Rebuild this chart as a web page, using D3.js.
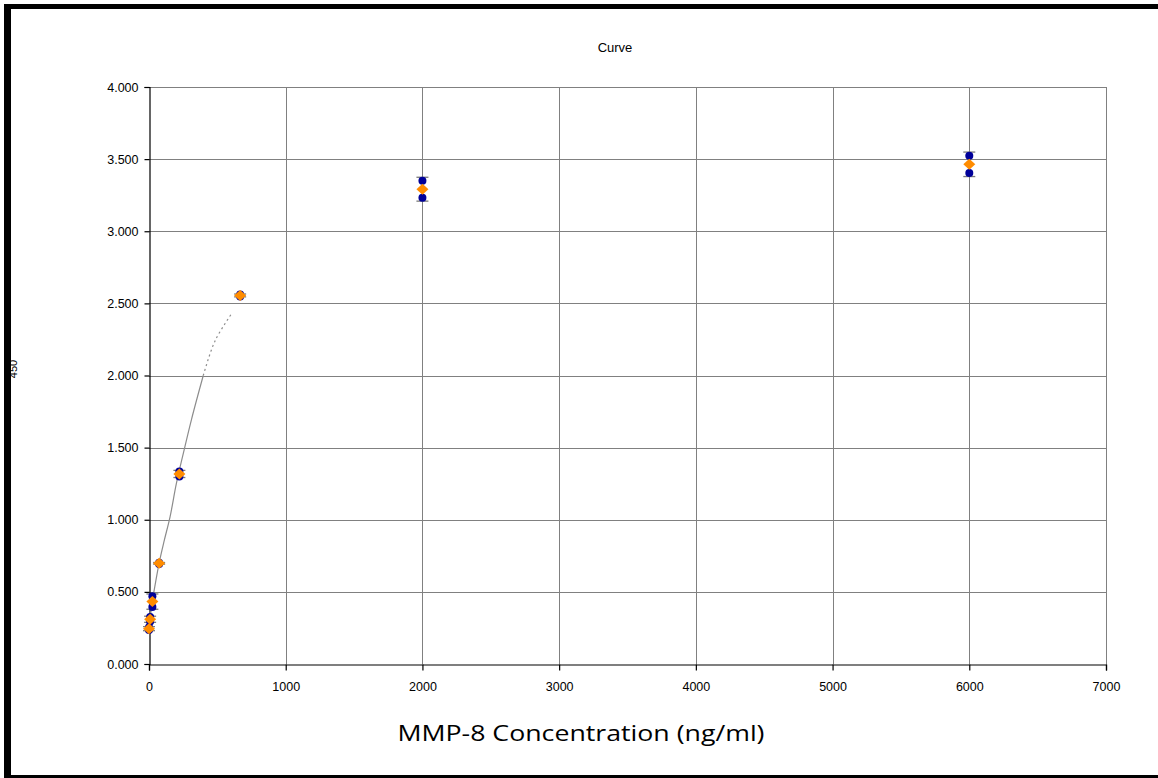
<!DOCTYPE html>
<html><head><meta charset="utf-8">
<script src="https://cdn.jsdelivr.net/npm/d3@7"></script>
<style>body{margin:0;background:#fff}svg{display:block}</style>
</head><body>
<script>
const concentrations = [6000, 2000, 666.7, 222.2, 74.1, 24.7, 8.2, 0];
const rep1 = [3.524, 3.350, 2.562, 1.335, 0.702, 0.470, 0.325, 0.255];
const rep2 = [3.404, 3.233, 2.548, 1.300, 0.694, 0.395, 0.295, 0.235];
const curveX = [0, 8, 25, 45, 74, 110, 154, 200, 251, 312, 397, 483, 605];
const curveY = [0.25, 0.31, 0.44, 0.55, 0.70, 0.85, 1.02, 1.25, 1.46, 1.70, 2.00, 2.24, 2.43];
const xTicks = [0, 1000, 2000, 3000, 4000, 5000, 6000, 7000];
const yTicks = [0, 0.5, 1, 1.5, 2, 2.5, 3, 3.5, 4];

const W = 1158, H = 778;
const svg = d3.select("body").append("svg").attr("width", W).attr("height", H);
svg.append("rect").attr("width", W).attr("height", H).attr("fill", "#fff");

// outer frame
svg.append("rect").attr("x", 4).attr("y", 4).attr("width", W - 4).attr("height", 5).attr("fill", "#000");
svg.append("rect").attr("x", 4).attr("y", 4).attr("width", 7).attr("height", H - 4).attr("fill", "#000");
svg.append("rect").attr("x", 4).attr("y", 775).attr("width", W - 4).attr("height", 3).attr("fill", "#000");

const x = d3.scaleLinear().domain([0, 7000]).range([149, 1106]);
const y = d3.scaleLinear().domain([0, 4]).range([664, 87]);

// grid
const g = svg.append("g");
g.selectAll("line.hg").data(yTicks.slice(1)).join("line")
  .attr("x1", x(0)).attr("x2", x(7000))
  .attr("y1", d => Math.round(y(d)) + 0.5).attr("y2", d => Math.round(y(d)) + 0.5)
  .attr("stroke", "#808080").attr("stroke-width", 1);
g.selectAll("line.vg").data(xTicks.slice(1)).join("line")
  .attr("y1", y(0)).attr("y2", y(4))
  .attr("x1", d => Math.round(x(d)) + 0.5).attr("x2", d => Math.round(x(d)) + 0.5)
  .attr("stroke", "#808080").attr("stroke-width", 1);

// axes
const fmt = d3.format(".3f");
const yAxis = svg.append("g").attr("transform", `translate(${x(0) + 0.5},0)`)
  .call(d3.axisLeft(y).tickValues(yTicks).tickFormat(fmt).tickSize(5).tickPadding(6));
const xAxis = svg.append("g").attr("transform", `translate(0,${y(0) + 0.5})`)
  .call(d3.axisBottom(x).tickValues(xTicks).tickFormat(d3.format("d")).tickSize(6).tickPadding(12));
[yAxis, xAxis].forEach(a => {
  a.selectAll("path,line").attr("stroke", "#000").attr("stroke-width", 1.2);
  a.selectAll("text").attr("font-family", "Liberation Sans, Arial, sans-serif")
    .attr("font-size", 12.5).attr("fill", "#000");
});

// fitted curve
const pts = curveX.map((d, i) => [d, curveY[i]]);
const line = d3.line().x(d => x(d[0])).y(d => y(d[1])).curve(d3.curveCatmullRom.alpha(0.5));
const solidPts = pts.filter(d => d[1] <= 2.0);
const dashPts = pts.filter(d => d[1] >= 2.0);
svg.append("path").attr("d", line(solidPts)).attr("fill", "none")
  .attr("stroke", "#8c8c8c").attr("stroke-width", 1.2);
svg.append("path").attr("d", line(dashPts)).attr("fill", "none")
  .attr("stroke", "#8c8c8c").attr("stroke-width", 1.2).attr("stroke-dasharray", "2,3");

// data
const data = concentrations.map((c, i) => {
  const m = (rep1[i] + rep2[i]) / 2;
  const sd = Math.sqrt(((rep1[i] - m) ** 2 + (rep2[i] - m) ** 2) / 1);
  return { c, r1: rep1[i], r2: rep2[i], m, sd };
});

const eb = svg.append("g").attr("stroke", "#7a7a7a").attr("stroke-width", 1.3);
data.forEach(d => {
  const cx = x(d.c);
  eb.append("line").attr("x1", cx).attr("x2", cx).attr("y1", y(d.m - d.sd)).attr("y2", y(d.m + d.sd));
  [d.m - d.sd, d.m + d.sd].forEach(v => {
    eb.append("line").attr("x1", cx - 6).attr("x2", cx + 6).attr("y1", y(v)).attr("y2", y(v));
  });
});

const reps = data.flatMap(d => [[d.c, d.r1], [d.c, d.r2]]);
svg.append("g").selectAll("circle").data(reps).join("circle")
  .attr("cx", d => x(d[0])).attr("cy", d => y(d[1])).attr("r", 4)
  .attr("fill", "#000099");

svg.append("g").selectAll("path").data(data).join("path")
  .attr("d", "M0,-5.5L6,0L0,5.5L-6,0Z")
  .attr("transform", d => `translate(${x(d.c)},${y(d.m)})`)
  .attr("fill", "#FF8C00");

// texts
svg.append("text").attr("x", 615).attr("y", 52).attr("text-anchor", "middle")
  .attr("font-family", "Liberation Sans, Arial, sans-serif").attr("font-size", 13).text("Curve");
svg.append("text").attr("transform", "translate(17,369) rotate(-90)").attr("text-anchor", "middle")
  .attr("font-family", "Liberation Sans, Arial, sans-serif").attr("font-size", 11).text("450");
svg.append("text").attr("x", 581).attr("y", 741).attr("text-anchor", "middle")
  .attr("font-family", "Open Sans, Noto Sans, sans-serif").attr("font-size", 21)
  .attr("textLength", 367).attr("lengthAdjust", "spacingAndGlyphs")
  .text("MMP-8 Concentration (ng/ml)");
</script>
</body></html>
